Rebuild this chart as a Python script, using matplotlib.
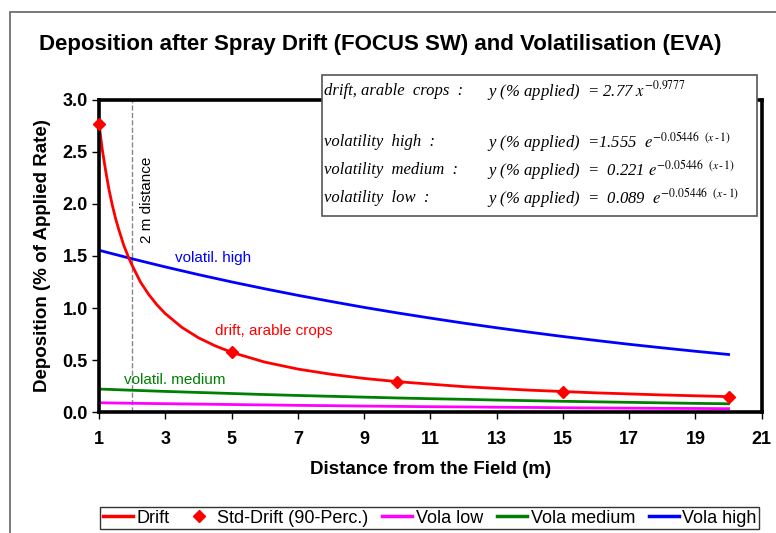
import matplotlib.pyplot as plt
from matplotlib.patches import Rectangle
from matplotlib.lines import Line2D

plt.rcParams['font.family'] = ['Liberation Sans', 'DejaVu Sans']
plt.rcParams['mathtext.fontset'] = 'stix'

# distances (m) and deposition (% of applied rate)
dist = [1, 1.1, 1.2, 1.3, 1.4, 1.5, 1.6, 1.75, 1.9, 2, 2.25, 2.5, 2.75, 3, 3.5, 4, 4.5,
        5, 6, 7, 8, 9, 10, 12, 14, 16, 18, 20]
drift = [2.77, 2.52, 2.32, 2.14, 1.99, 1.86, 1.75, 1.60, 1.48, 1.41, 1.25, 1.13, 1.03,
         0.946, 0.814, 0.714, 0.637, 0.574, 0.480, 0.413, 0.363, 0.323, 0.292, 0.244,
         0.210, 0.184, 0.164, 0.148]

std_dist = [1, 5, 10, 15, 20]
std_drift = [2.77, 0.574, 0.292, 0.197, 0.148]

vola_dist = [1, 2, 3, 4, 5, 6, 7, 8, 9, 10, 11, 12, 13, 14, 15, 16, 17, 18, 19, 20]
vola_high = [1.555, 1.473, 1.395, 1.321, 1.251, 1.185, 1.122, 1.063, 1.006, 0.953,
             0.903, 0.855, 0.810, 0.767, 0.726, 0.688, 0.651, 0.617, 0.584, 0.553]
vola_medium = [0.221, 0.209, 0.198, 0.188, 0.178, 0.168, 0.159, 0.151, 0.143, 0.135,
               0.128, 0.122, 0.115, 0.109, 0.103, 0.098, 0.093, 0.088, 0.083, 0.079]
vola_low = [0.089, 0.084, 0.080, 0.076, 0.072, 0.068, 0.064, 0.061, 0.057, 0.054,
            0.051, 0.049, 0.046, 0.044, 0.041, 0.039, 0.037, 0.035, 0.034, 0.032]

eq_labels = ['drift, arable  crops  :', 'volatility  high  :',
             'volatility  medium  :', 'volatility  low  :']
eq_texts = [r'y (% applied)  = 2.77 $x^{-0.9777}$',
            r'y (% applied)  =1.555  $e^{-0.05446\ \ (x\,\text{-}\,1)}$',
            r'y (% applied)  =  0.221 $e^{-0.05446\ \ (x\,\text{-}\,1)}$',
            r'y (% applied)  =  0.089  $e^{-0.05446\ \ (x\,\text{-}\,1)}$']

fig = plt.figure(figsize=(7.76, 5.33), dpi=100)
ax = fig.add_axes([0.1276, 0.227, 0.854, 0.5854])

# outer chart frame
fig.patches.append(Rectangle((0.0129, -0.05), 1.1, 1.0275, transform=fig.transFigure,
                             fill=False, edgecolor='#707070', lw=1.3))

ax.axvline(2, color='#888888', ls='--', lw=1)
ax.plot(vola_dist, vola_low, color='magenta', lw=2, label='Vola low')
ax.plot(vola_dist, vola_medium, color='green', lw=2, label='Vola medium')
ax.plot(vola_dist, vola_high, color='blue', lw=2, label='Vola high')
ax.plot(dist, drift, color='red', lw=2, label='Drift')
ax.plot(std_dist, std_drift, ls='none', marker='D', color='red', ms=6,
        label='Std-Drift (90-Perc.)', clip_on=False, zorder=5)

ax.set_xlim(1, 21)
ax.set_ylim(0, 3)
ax.set_xticks(range(1, 22, 2))
ax.set_yticks([0, 0.5, 1.0, 1.5, 2.0, 2.5, 3.0])
ax.set_yticklabels(['0.0', '0.5', '1.0', '1.5', '2.0', '2.5', '3.0'])
for s in ax.spines.values():
    s.set_linewidth(2.6)
ax.tick_params(direction='out', length=5, width=1, labelsize=13)
ax.tick_params(axis='x', pad=9)
ax.tick_params(axis='y', pad=3)
for lab in ax.get_xticklabels() + ax.get_yticklabels():
    lab.set_fontweight('bold')

ax.set_xlabel('Distance from the Field (m)', fontsize=13.5, fontweight='bold', labelpad=9)
ax.set_ylabel('Deposition (% of Applied Rate)', fontsize=13.5, fontweight='bold', labelpad=8)
fig.text(0.49, 0.916, 'Deposition after Spray Drift (FOCUS SW) and Volatilisation (EVA)',
         ha='center', va='center', fontsize=16, fontweight='bold')

ax.text(2.45, 2.04, '2 m distance', rotation=90, ha='center', va='center', fontsize=11)
ax.text(3.3, 1.48, 'volatil. high', color='blue', fontsize=11, va='center')
ax.text(4.5, 0.78, 'drift, arable crops', color='red', fontsize=11, va='center')
ax.text(1.75, 0.31, 'volatil. medium', color='green', fontsize=11, va='center')

# equation box
fig.patches.append(Rectangle((0.415, 0.5947), 0.561, 0.2645, transform=fig.transFigure,
                             facecolor='white', edgecolor='#555555', lw=1.2, zorder=5))
rows_y = [0.829, 0.734, 0.681, 0.629]
for lab, eq, yy in zip(eq_labels, eq_texts, rows_y):
    fig.text(0.418, yy, lab, family='Liberation Serif', style='italic', fontsize=12,
             va='center', zorder=6)
    fig.text(0.627, yy, eq, family='Liberation Serif', style='italic', fontsize=12,
             va='center', zorder=6)

handles = [Line2D([], [], color='red', lw=2.5),
           Line2D([], [], color='red', ls='none', marker='D', ms=6),
           Line2D([], [], color='magenta', lw=2.5),
           Line2D([], [], color='green', lw=2.5),
           Line2D([], [], color='blue', lw=2.5)]
labels = ['Drift', 'Std-Drift (90-Perc.)', 'Vola low', 'Vola medium', 'Vola high']
leg = fig.legend(handles, labels, loc='center', bbox_to_anchor=(0.554, 0.028), ncol=5,
                 fontsize=13, frameon=True, fancybox=False, edgecolor='black',
                 handlelength=1.65, handletextpad=0.2, columnspacing=0.78,
                 borderpad=0.15, borderaxespad=0)
leg.get_frame().set_linewidth(1)

fig.savefig('out.png', dpi=100)
